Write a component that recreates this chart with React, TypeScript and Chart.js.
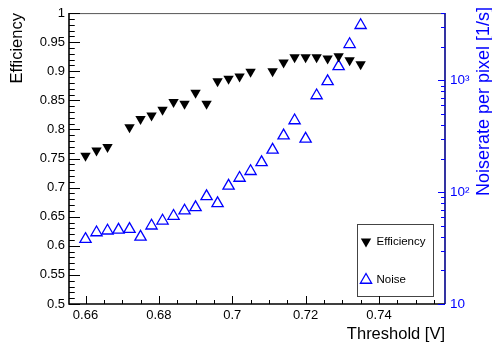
import React, { useEffect, useRef } from "react";
import { Chart, registerables } from "chart.js";

Chart.register(...registerables);

// ---- data ----
const thresholds = [
  0.66, 0.663, 0.666, 0.669, 0.672, 0.675, 0.678, 0.681, 0.684, 0.687, 0.69, 0.693, 0.696,
  0.699, 0.702, 0.705, 0.708, 0.711, 0.714, 0.717, 0.72, 0.723, 0.726, 0.729, 0.732, 0.735,
];
const efficiency: (number | null)[] = [
  0.755, 0.764, 0.77, null, 0.804, 0.818, 0.824, 0.834, 0.847, 0.844, 0.863, 0.844, 0.883,
  0.887, 0.891, 0.899, null, 0.9, 0.915, 0.924, 0.924, 0.924, 0.922, 0.926, 0.919, 0.912,
];
const noise = [
  38, 43.6, 45.2, 46.1, 46.8, 39.9, 50.1, 55.5, 61.2, 68.3, 73.1, 91.7, 79.4,
  114, 134, 154, 185, 239, 321, 438, 300, 733, 980, 1336, 2104, 3114,
];

const xTicks = [0.66, 0.68, 0.7, 0.72, 0.74];
const xTickLabels = ["0.66", "0.68", "0.7", "0.72", "0.74"];
const yTicks = [0.5, 0.55, 0.6, 0.65, 0.7, 0.75, 0.8, 0.85, 0.9, 0.95, 1];
const yTickLabels = ["0.5", "0.55", "0.6", "0.65", "0.7", "0.75", "0.8", "0.85", "0.9", "0.95", "1"];
const y2Ticks = [10, 100, 1000];
const y2TickLabels = ["10", "10²", "10³"];

const xTitle = "Threshold [V]";
const yTitle = "Efficiency";
const y2Title = "Noiserate per pixel [1/s]";
const legendLabels = ["Efficiency", "Noise"];

const FONT = '"Liberation Sans", Arial, Helvetica, sans-serif';
const BLUE = "#0000ff";
const NAVY = "#00008b";

function drawTri(ctx: CanvasRenderingContext2D, x: number, y: number, r: number, down: boolean, fill: boolean, color: string) {
  ctx.save();
  ctx.beginPath();
  const s = down ? -1 : 1;
  ctx.moveTo(x, y - s * r);
  ctx.lineTo(x + r * 0.866, y + s * r * 0.5);
  ctx.lineTo(x - r * 0.866, y + s * r * 0.5);
  ctx.closePath();
  if (fill) {
    ctx.fillStyle = color;
    ctx.fill();
  } else {
    ctx.strokeStyle = color;
    ctx.lineWidth = 1.3;
    ctx.stroke();
  }
  ctx.restore();
}

function drawTicks(chart: any) {
  const ctx: CanvasRenderingContext2D = chart.ctx;
  const { left, right, bottom } = chart.chartArea;
  const xs = chart.scales.x;
  const ys = chart.scales.y;
  const y2s = chart.scales.y2;
  ctx.save();
  ctx.setLineDash([]);
  ctx.globalAlpha = 1;
  ctx.globalCompositeOperation = "source-over";
  ctx.lineWidth = 1;
  ctx.strokeStyle = "#000000";
  ctx.beginPath();
  for (let i = 50; i <= 100; i++) {
    const py = Math.round(ys.getPixelForValue(i / 100)) + 0.5;
    const len = i % 5 === 0 ? 11 : 5.5;
    ctx.moveTo(left, py);
    ctx.lineTo(left + len, py);
  }
  for (let i = 660; i <= 755; i += 5) {
    const px = Math.round(xs.getPixelForValue(i / 1000)) + 0.5;
    const len = i % 20 === 0 ? 8 : 4;
    ctx.moveTo(px, bottom);
    ctx.lineTo(px, bottom - len);
  }
  ctx.stroke();
  ctx.strokeStyle = BLUE;
  ctx.beginPath();
  for (let d = 10; d <= 1000; d *= 10) {
    for (let m = 1; m <= 9; m++) {
      const v = d * m;
      if (v < 10 || v > 4000) continue;
      const py = Math.round(y2s.getPixelForValue(v)) + 0.5;
      const len = m === 1 ? 7 : 4;
      ctx.moveTo(right, py);
      ctx.lineTo(right - len, py);
    }
  }
  ctx.stroke();
  ctx.restore();
}

const framePlugin = {
  id: "rootFrame",
  afterDatasetsDraw(chart: any) {
    drawTicks(chart);
  },
  afterDraw(chart: any) {
    const ctx: CanvasRenderingContext2D = chart.ctx;
    const { left, right, top, bottom } = chart.chartArea;
    ctx.save();
    ctx.setLineDash([]);

    // frame
    ctx.lineWidth = 1;
    ctx.strokeStyle = "#555";
    ctx.beginPath();
    ctx.moveTo(left, top + 0.5);
    ctx.lineTo(right, top + 0.5);
    ctx.stroke();
    ctx.lineWidth = 1.6;
    ctx.strokeStyle = "#000";
    ctx.beginPath();
    ctx.moveTo(left, top);
    ctx.lineTo(left, bottom);
    ctx.lineTo(right, bottom);
    ctx.stroke();
    ctx.strokeStyle = NAVY;
    ctx.beginPath();
    ctx.moveTo(right, top);
    ctx.lineTo(right, bottom);
    ctx.stroke();

    // titles
    ctx.fillStyle = "#000";
    ctx.font = `16.5px ${FONT}`;
    ctx.textAlign = "right";
    ctx.textBaseline = "middle";
    ctx.fillText(xTitle, right, 334);
    ctx.save();
    ctx.translate(17, top);
    ctx.rotate(-Math.PI / 2);
    ctx.fillText(yTitle, 0, 0);
    ctx.restore();
    ctx.save();
    ctx.fillStyle = BLUE;
    ctx.font = `18px ${FONT}`;
    ctx.translate(484, 7);
    ctx.rotate(-Math.PI / 2);
    ctx.fillText(y2Title, 0, 0);
    ctx.restore();

    // legend
    const lx = 357.5, ly = 224.5, lw = 76, lh = 72;
    ctx.fillStyle = "#fff";
    ctx.fillRect(lx, ly, lw, lh);
    ctx.strokeStyle = "#444";
    ctx.lineWidth = 1;
    ctx.strokeRect(lx, ly, lw, lh);
    drawTri(ctx, 366, 241.5, 6, true, true, "#000");
    drawTri(ctx, 366, 280, 6.5, false, false, BLUE);
    ctx.fillStyle = "#000";
    ctx.font = `11.5px ${FONT}`;
    ctx.textAlign = "left";
    ctx.textBaseline = "middle";
    ctx.fillText(legendLabels[0], 376.5, 242);
    ctx.fillText(legendLabels[1], 376.5, 280);
    ctx.restore();

    drawTicks(chart);
  },
};

export default function App() {
  const ref = useRef<HTMLCanvasElement | null>(null);
  useEffect(() => {
    if (!ref.current) return;
    const effPoints = thresholds
      .map((x, i) => ({ x, y: efficiency[i] }))
      .filter((p) => p.y !== null);
    const noisePoints = thresholds.map((x, i) => ({ x, y: noise[i] }));
    const tickFont = { family: FONT, size: 13 };
    const chart = new Chart(ref.current, {
      type: "scatter",
      data: {
        datasets: [
          {
            label: legendLabels[0],
            data: effPoints as any,
            yAxisID: "y",
            pointStyle: "triangle",
            rotation: 180,
            pointRadius: 6,
            backgroundColor: "#000",
            borderColor: "#000",
            borderWidth: 0,
            showLine: false,
          },
          {
            label: legendLabels[1],
            data: noisePoints,
            yAxisID: "y2",
            pointStyle: "triangle",
            pointRadius: 6.5,
            backgroundColor: "rgba(0,0,0,0)",
            borderColor: BLUE,
            borderWidth: 1.3,
            showLine: false,
          },
        ],
      },
      options: {
        responsive: false,
        animation: false,
        devicePixelRatio: 1,
        events: [],
        layout: { padding: { top: 13, left: 0, right: 0, bottom: 0 } },
        plugins: { legend: { display: false }, tooltip: { enabled: false } },
        scales: {
          x: {
            type: "linear",
            position: "bottom",
            min: 0.6555,
            max: 0.758,
            afterBuildTicks: (s: any) => {
              s.ticks = xTicks.map((v) => ({ value: v }));
            },
            afterFit: (s: any) => {
              s.height = 39;
            },
            grid: { display: false, drawTicks: false },
            border: { display: false },
            ticks: {
              padding: 4,
              autoSkip: false,
              maxRotation: 0,
              font: tickFont,
              color: "#000",
              callback: (_v: any, i: number) => xTickLabels[i],
            },
          },
          y: {
            type: "linear",
            position: "left",
            min: 0.5,
            max: 1,
            afterBuildTicks: (s: any) => {
              s.ticks = yTicks.map((v) => ({ value: v }));
            },
            afterFit: (s: any) => {
              s.width = 69;
            },
            grid: { display: false, drawTicks: false },
            border: { display: false },
            ticks: {
              padding: 4,
              autoSkip: false,
              font: tickFont,
              color: "#000",
              callback: (_v: any, i: number) => yTickLabels[i],
            },
          },
          y2: {
            type: "logarithmic",
            position: "right",
            min: 10,
            max: 4000,
            afterBuildTicks: (s: any) => {
              s.ticks = y2Ticks.map((v) => ({ value: v }));
            },
            afterFit: (s: any) => {
              s.width = 47;
            },
            grid: { display: false, drawTicks: false },
            border: { display: false },
            ticks: {
              padding: 5,
              autoSkip: false,
              font: { family: FONT, size: 13.5 },
              color: BLUE,
              callback: (_v: any, i: number) => y2TickLabels[i],
            },
          },
        },
      },
      plugins: [framePlugin],
    });
    return () => chart.destroy();
  }, []);
  return (
    <div style={{ position: "absolute", left: 0, top: 0, width: 492, height: 343, background: "#fff" }}>
      <canvas ref={ref} width={492} height={343} style={{ width: 492, height: 343, display: "block" }} />
    </div>
  );
}
